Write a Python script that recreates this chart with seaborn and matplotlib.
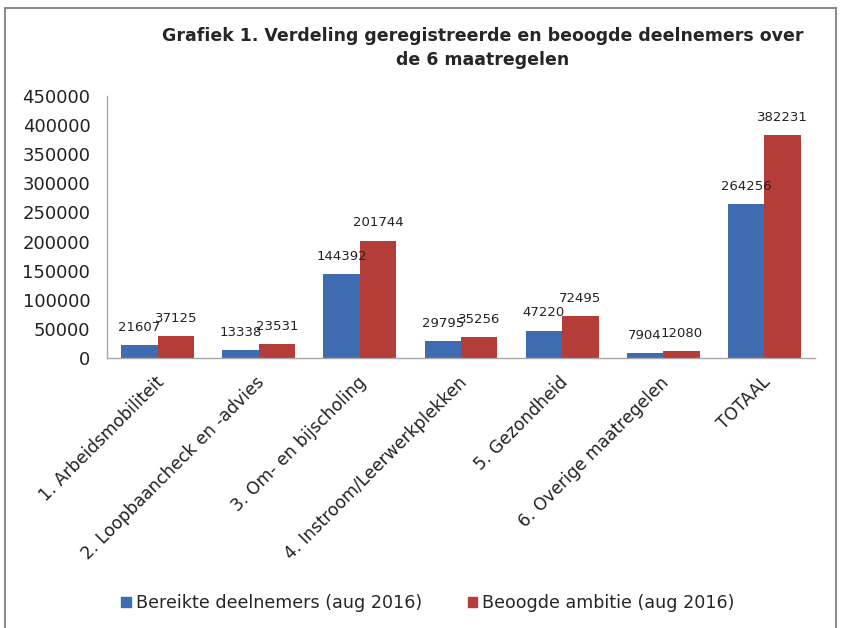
import matplotlib
matplotlib.use("Agg")
import matplotlib.pyplot as plt
import matplotlib.patches as mpatches
import matplotlib.transforms as mtransforms
import seaborn as sns
import pandas as pd
import numpy as np

categories = ["1. Arbeidsmobiliteit", "2. Loopbaancheck en -advies", "3. Om- en bijscholing",
              "4. Instroom/Leerwerkplekken", "5. Gezondheid", "6. Overige maatregelen", "TOTAAL"]
bereikt = [21607, 13338, 144392, 29795, 47220, 7904, 264256]
beoogd = [37125, 23531, 201744, 35256, 72495, 12080, 382231]
series = ["Bereikte deelnemers (aug 2016)", "Beoogde ambitie (aug 2016)"]
colors = ["#3F6CB0", "#B43D3A"]
yticks = list(range(0, 450001, 50000))

df = pd.DataFrame({
    "cat": categories * 2,
    "val": bereikt + beoogd,
    "serie": [series[0]] * len(categories) + [series[1]] * len(categories),
})

sns.set_theme(style="white")
plt.rcParams['font.family'] = ['DejaVu Sans']

fig = plt.figure(figsize=(8.42, 6.28), dpi=100)
ax = fig.add_axes([107/842, 1 - 358/628, (815-107)/842, (358-96)/628])

sns.barplot(data=df, x="cat", y="val", hue="serie", palette=colors, ax=ax,
            width=0.72, saturation=1, legend=False, edgecolor="none", linewidth=0)

ax.set_ylim(0, 450000)
ax.set_yticks(yticks)
ax.set_yticklabels([str(v) for v in yticks], fontsize=13, color="#222222")
ax.set_xlim(-0.5, len(categories) - 0.5)
ax.set_xlabel("")
ax.set_ylabel("")
ax.tick_params(axis="y", length=0, pad=12)
ax.tick_params(axis="x", length=0, pad=11)
ax.set_xticks(range(len(categories)))
ax.set_xticklabels(categories, rotation=45, ha="right", rotation_mode="anchor",
                   fontsize=12.3, color="#222222")
offset = mtransforms.ScaledTranslation(-3/100, 0, fig.dpi_scale_trans)
for lbl in ax.get_xticklabels():
    lbl.set_transform(lbl.get_transform() + offset)
for s in ["top", "right"]:
    ax.spines[s].set_visible(False)
for s in ["left", "bottom"]:
    ax.spines[s].set_color("#A8A8A8")
    ax.spines[s].set_linewidth(1)

for cont in ax.containers:
    ax.bar_label(cont, fmt="%d", padding=8, fontsize=9.5, color="#222222")

fig.text(0.573, 1 - 48/628, "Grafiek 1. Verdeling geregistreerde en beoogde deelnemers over\nde 6 maatregelen",
         ha="center", va="center", fontsize=12.5, fontweight="bold", linespacing=1.4)

handles = [mpatches.Patch(color=c, label=l) for c, l in zip(colors, series)]
fig.legend(handles=handles, loc="center", bbox_to_anchor=(428/842, 1 - 603/628), ncol=2,
           frameon=False, fontsize=12.6, handlelength=0.55, handleheight=0.55,
           handletextpad=0.3, columnspacing=2.6)

border = mpatches.Rectangle((5/842, -0.01), (836-5)/842, 1 - 8/628 + 0.01,
                            transform=fig.transFigure, fill=False,
                            edgecolor="#8C8C8C", linewidth=1.5)
fig.patches.append(border)

fig.savefig("out.png", dpi=100)
